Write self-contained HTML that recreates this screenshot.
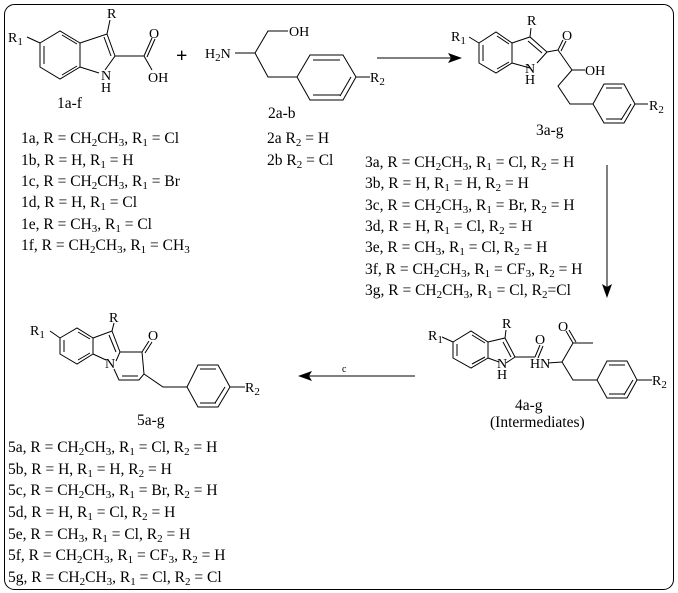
<!DOCTYPE html>
<html><head><meta charset="utf-8"><style>
html,body{margin:0;padding:0;background:#fff;}
svg{display:block;}
text{font-family:"Liberation Serif",serif;font-size:15.5px;fill:#000;}
.s{font-size:11px;}
.l{font-size:14px;}
</style></head><body>
<svg width="678" height="593" viewBox="0 0 678 593" xmlns="http://www.w3.org/2000/svg">
<rect x="4.5" y="4.5" width="669" height="585" rx="10" fill="none" stroke="#000" stroke-width="1"/>
<g stroke="#000" stroke-width="1" fill="none">
<line x1="27" y1="37" x2="40" y2="43"/>
<polygon points="40,43 60,31 80,43 80,67 60,79 40,67"/>
<line x1="44" y1="64" x2="44" y2="46"/><line x1="62" y1="35" x2="77" y2="44"/><line x1="62" y1="75" x2="77" y2="66"/>
<polyline points="80,43 107,34 115,56 105,70"/><line x1="80" y1="67" x2="99" y2="73"/>
<line x1="104" y1="37" x2="111" y2="56"/>
<line x1="107" y1="34" x2="110" y2="20"/>
<line x1="115" y1="56" x2="144" y2="56"/>
<line x1="144" y1="56" x2="152" y2="38"/><line x1="147" y1="57" x2="155" y2="39"/>
<line x1="144" y1="56" x2="152" y2="70"/>
<line x1="235" y1="53" x2="255" y2="53"/><polyline points="255,53 268,31 288,31"/>
<polyline points="255,53 268,77 297,77"/>
<polygon points="297,77 310,55 343,55 356,77 343,100 310,100"/>
<line x1="313" y1="60" x2="340" y2="60"/><line x1="313" y1="95" x2="340" y2="95"/><line x1="351" y1="77" x2="340" y2="96"/>
<line x1="356" y1="77" x2="370" y2="77"/>
<line x1="377" y1="58" x2="452" y2="58"/>
<line x1="469" y1="37" x2="479" y2="43"/>
<polygon points="479,43 496,32 512,43 512,63 496,73 479,63"/>
<line x1="483" y1="61" x2="483" y2="45"/><line x1="497" y1="36" x2="509" y2="44"/><line x1="497" y1="69" x2="509" y2="62"/>
<polyline points="512,43 530,37 547,52 537,63"/><line x1="512" y1="63" x2="530" y2="68"/>
<line x1="528" y1="41" x2="542" y2="53"/>
<line x1="530" y1="37" x2="531" y2="28"/>
<line x1="547" y1="52" x2="558" y2="50"/>
<line x1="558" y1="50" x2="563" y2="40"/><line x1="561" y1="51" x2="566" y2="41"/>
<polyline points="558,50 572,70 585,70"/>
<polyline points="572,70 558,86 570,104 593,104"/>
<polygon points="593,104 604,84 624,84 635,104 624,123 604,123"/>
<line x1="606" y1="88" x2="622" y2="88"/><line x1="606" y1="119" x2="622" y2="119"/><line x1="631" y1="104" x2="621" y2="120"/>
<line x1="635" y1="104" x2="648" y2="104"/>
<line x1="607" y1="165" x2="607" y2="290"/>
<line x1="442" y1="337" x2="453" y2="342"/>
<polygon points="453,342 471,331 488,342 488,358 471,368 453,358"/>
<line x1="457" y1="356" x2="457" y2="344"/><line x1="472" y1="335" x2="485" y2="343"/><line x1="472" y1="364" x2="485" y2="357"/>
<polyline points="488,342 505,338 515,357 506,363"/><line x1="488" y1="358" x2="499" y2="362"/>
<line x1="503" y1="342" x2="511" y2="357"/>
<line x1="505" y1="338" x2="506" y2="330"/>
<line x1="515" y1="357" x2="535" y2="357"/>
<line x1="535" y1="357" x2="540" y2="345"/><line x1="538" y1="358" x2="543" y2="346"/>
<line x1="548" y1="363" x2="562" y2="362"/>
<polyline points="562,362 573,343 593,343"/>
<line x1="573" y1="343" x2="566" y2="331"/><line x1="576" y1="342" x2="569" y2="330"/>
<polyline points="562,362 573,380 597,380"/>
<polygon points="597,380 607,361 627,361 637,380 627,398 607,398"/>
<line x1="609" y1="365" x2="625" y2="365"/><line x1="609" y1="394" x2="625" y2="394"/><line x1="633" y1="380" x2="624" y2="395"/>
<line x1="637" y1="380" x2="652" y2="380"/>
<line x1="308" y1="376" x2="415" y2="376"/>
<line x1="50" y1="331" x2="60" y2="338"/>
<polygon points="60,338 77,328 93,338 93,354 77,364 60,354"/>
<line x1="64" y1="352" x2="64" y2="340"/><line x1="78" y1="332" x2="90" y2="339"/><line x1="78" y1="360" x2="90" y2="353"/>
<polyline points="93,338 112,331 120,352 116,361"/><line x1="93" y1="354" x2="106" y2="360"/>
<line x1="109" y1="335" x2="116" y2="352"/>
<line x1="112" y1="331" x2="114" y2="323"/>
<polyline points="120,352 142,352 144,374 139,380 119,380 114,369"/>
<line x1="122" y1="376" x2="138" y2="376"/>
<line x1="142" y1="352" x2="149" y2="341"/><line x1="145" y1="353" x2="152" y2="342"/>
<polyline points="144,374 163,387 187,387"/>
<polygon points="187,387 198,365 218,365 230,387 218,407 198,407"/>
<line x1="200" y1="369" x2="216" y2="369"/><line x1="200" y1="403" x2="216" y2="403"/><line x1="225" y1="387" x2="215" y2="403"/>
<line x1="230" y1="387" x2="245" y2="387"/>
</g>
<g fill="#000">
<polygon points="462,58 448,53 451,58 448,63"/>
<polygon points="607,298 602,284 607,287 612,284"/>
<polygon points="298,376 312,371 309,376 312,381"/>
</g>
<g class="lbl">
<text class="l" x="8" y="42">R<tspan class="s" dy="3">1</tspan></text>
<text class="l" x="107" y="18">R</text>
<text class="l" x="101" y="80">N</text><text class="l" x="101" y="92">H</text>
<text class="l" x="149" y="38">O</text><text class="l" x="148" y="82">OH</text>
<text x="57" y="108">1a-f</text>
<text x="176" y="62" style="font-size:20px;font-weight:bold">+</text>
<text class="l" x="205" y="58">H<tspan class="s" dy="3">2</tspan><tspan dy="-3">N</tspan></text>
<text class="l" x="289" y="36">OH</text>
<text class="l" x="370" y="82">R<tspan class="s" dy="3">2</tspan></text>
<text x="268" y="118">2a-b</text>
<text class="l" x="451" y="41">R<tspan class="s" dy="3">1</tspan></text>
<text class="l" x="527" y="25">R</text>
<text class="l" x="525" y="73">N</text><text class="l" x="525" y="84">H</text>
<text class="l" x="562" y="40">O</text><text class="l" x="585" y="75">OH</text>
<text class="l" x="649" y="110">R<tspan class="s" dy="3">2</tspan></text>
<text x="536" y="135">3a-g</text>
<text class="l" x="428" y="340">R<tspan class="s" dy="3">1</tspan></text>
<text class="l" x="502" y="328">R</text>
<text class="l" x="497" y="368">N</text><text class="l" x="497" y="379">H</text>
<text class="l" x="535" y="344">O</text><text class="l" x="530" y="368">HN</text>
<text class="l" x="558" y="331">O</text>
<text class="l" x="652" y="385">R<tspan class="s" dy="3">2</tspan></text>
<text x="515" y="410">4a-g</text>
<text x="490" y="427">(Intermediates)</text>
<text class="l" x="30" y="335">R<tspan class="s" dy="3">1</tspan></text>
<text class="l" x="109" y="322">R</text>
<text class="l" x="105" y="368">N</text>
<text class="l" x="148" y="340">O</text>
<text class="l" x="245" y="392">R<tspan class="s" dy="3">2</tspan></text>
<text x="137" y="425">5a-g</text>
<text x="342" y="372" style="font-size:10px">c</text>
</g>
<g>
<text x="21" y="143">1a, R = CH<tspan class="s" dy="3">2</tspan><tspan dy="-3">CH</tspan><tspan class="s" dy="3">3</tspan><tspan dy="-3">, R</tspan><tspan class="s" dy="3">1</tspan><tspan dy="-3"> = Cl</tspan></text>
<text x="21" y="165">1b, R = H, R<tspan class="s" dy="3">1</tspan><tspan dy="-3"> = H</tspan></text>
<text x="21" y="186">1c, R = CH<tspan class="s" dy="3">2</tspan><tspan dy="-3">CH</tspan><tspan class="s" dy="3">3</tspan><tspan dy="-3">, R</tspan><tspan class="s" dy="3">1</tspan><tspan dy="-3"> = Br</tspan></text>
<text x="21" y="207">1d, R = H, R<tspan class="s" dy="3">1</tspan><tspan dy="-3"> = Cl</tspan></text>
<text x="21" y="229">1e, R = CH<tspan class="s" dy="3">3</tspan><tspan dy="-3">, R</tspan><tspan class="s" dy="3">1</tspan><tspan dy="-3"> = Cl</tspan></text>
<text x="21" y="250">1f, R = CH<tspan class="s" dy="3">2</tspan><tspan dy="-3">CH</tspan><tspan class="s" dy="3">3</tspan><tspan dy="-3">, R</tspan><tspan class="s" dy="3">1</tspan><tspan dy="-3"> = CH</tspan><tspan class="s" dy="3">3</tspan></text>
<text x="267" y="143">2a R<tspan class="s" dy="3">2</tspan><tspan dy="-3"> = H</tspan></text>
<text x="267" y="165">2b R<tspan class="s" dy="3">2</tspan><tspan dy="-3"> = Cl</tspan></text>
</g>
<g>
<text x="365" y="167">3a, R = CH<tspan class="s" dy="3">2</tspan><tspan dy="-3">CH</tspan><tspan class="s" dy="3">3</tspan><tspan dy="-3">, R</tspan><tspan class="s" dy="3">1</tspan><tspan dy="-3"> = Cl, R</tspan><tspan class="s" dy="3">2</tspan><tspan dy="-3"> = H</tspan></text>
<text x="365" y="188">3b, R = H, R<tspan class="s" dy="3">1</tspan><tspan dy="-3"> = H, R</tspan><tspan class="s" dy="3">2</tspan><tspan dy="-3"> = H</tspan></text>
<text x="365" y="210">3c, R = CH<tspan class="s" dy="3">2</tspan><tspan dy="-3">CH</tspan><tspan class="s" dy="3">3</tspan><tspan dy="-3">, R</tspan><tspan class="s" dy="3">1</tspan><tspan dy="-3"> = Br, R</tspan><tspan class="s" dy="3">2</tspan><tspan dy="-3"> = H</tspan></text>
<text x="365" y="231">3d, R = H, R<tspan class="s" dy="3">1</tspan><tspan dy="-3"> = Cl, R</tspan><tspan class="s" dy="3">2</tspan><tspan dy="-3"> = H</tspan></text>
<text x="365" y="252">3e, R = CH<tspan class="s" dy="3">3</tspan><tspan dy="-3">, R</tspan><tspan class="s" dy="3">1</tspan><tspan dy="-3"> = Cl, R</tspan><tspan class="s" dy="3">2</tspan><tspan dy="-3"> = H</tspan></text>
<text x="365" y="274">3f, R = CH<tspan class="s" dy="3">2</tspan><tspan dy="-3">CH</tspan><tspan class="s" dy="3">3</tspan><tspan dy="-3">, R</tspan><tspan class="s" dy="3">1</tspan><tspan dy="-3"> = CF</tspan><tspan class="s" dy="3">3</tspan><tspan dy="-3">, R</tspan><tspan class="s" dy="3">2</tspan><tspan dy="-3"> = H</tspan></text>
<text x="365" y="295">3g, R = CH<tspan class="s" dy="3">2</tspan><tspan dy="-3">CH</tspan><tspan class="s" dy="3">3</tspan><tspan dy="-3">, R</tspan><tspan class="s" dy="3">1</tspan><tspan dy="-3"> = Cl, R</tspan><tspan class="s" dy="3">2</tspan><tspan dy="-3">=Cl</tspan></text>
</g>
<g>
<text x="8" y="452">5a, R = CH<tspan class="s" dy="3">2</tspan><tspan dy="-3">CH</tspan><tspan class="s" dy="3">3</tspan><tspan dy="-3">, R</tspan><tspan class="s" dy="3">1</tspan><tspan dy="-3"> = Cl, R</tspan><tspan class="s" dy="3">2</tspan><tspan dy="-3"> = H</tspan></text>
<text x="8" y="474">5b, R = H, R<tspan class="s" dy="3">1</tspan><tspan dy="-3"> = H, R</tspan><tspan class="s" dy="3">2</tspan><tspan dy="-3"> = H</tspan></text>
<text x="8" y="495">5c, R = CH<tspan class="s" dy="3">2</tspan><tspan dy="-3">CH</tspan><tspan class="s" dy="3">3</tspan><tspan dy="-3">, R</tspan><tspan class="s" dy="3">1</tspan><tspan dy="-3"> = Br, R</tspan><tspan class="s" dy="3">2</tspan><tspan dy="-3"> = H</tspan></text>
<text x="8" y="517">5d, R = H, R<tspan class="s" dy="3">1</tspan><tspan dy="-3"> = Cl, R</tspan><tspan class="s" dy="3">2</tspan><tspan dy="-3"> = H</tspan></text>
<text x="8" y="539">5e, R = CH<tspan class="s" dy="3">3</tspan><tspan dy="-3">, R</tspan><tspan class="s" dy="3">1</tspan><tspan dy="-3"> = Cl, R</tspan><tspan class="s" dy="3">2</tspan><tspan dy="-3"> = H</tspan></text>
<text x="8" y="560">5f, R = CH<tspan class="s" dy="3">2</tspan><tspan dy="-3">CH</tspan><tspan class="s" dy="3">3</tspan><tspan dy="-3">, R</tspan><tspan class="s" dy="3">1</tspan><tspan dy="-3"> = CF</tspan><tspan class="s" dy="3">3</tspan><tspan dy="-3">, R</tspan><tspan class="s" dy="3">2</tspan><tspan dy="-3"> = H</tspan></text>
<text x="8" y="582">5g, R = CH<tspan class="s" dy="3">2</tspan><tspan dy="-3">CH</tspan><tspan class="s" dy="3">3</tspan><tspan dy="-3">, R</tspan><tspan class="s" dy="3">1</tspan><tspan dy="-3"> = Cl, R</tspan><tspan class="s" dy="3">2</tspan><tspan dy="-3"> = Cl</tspan></text>
</g>
</svg>
</body></html>
